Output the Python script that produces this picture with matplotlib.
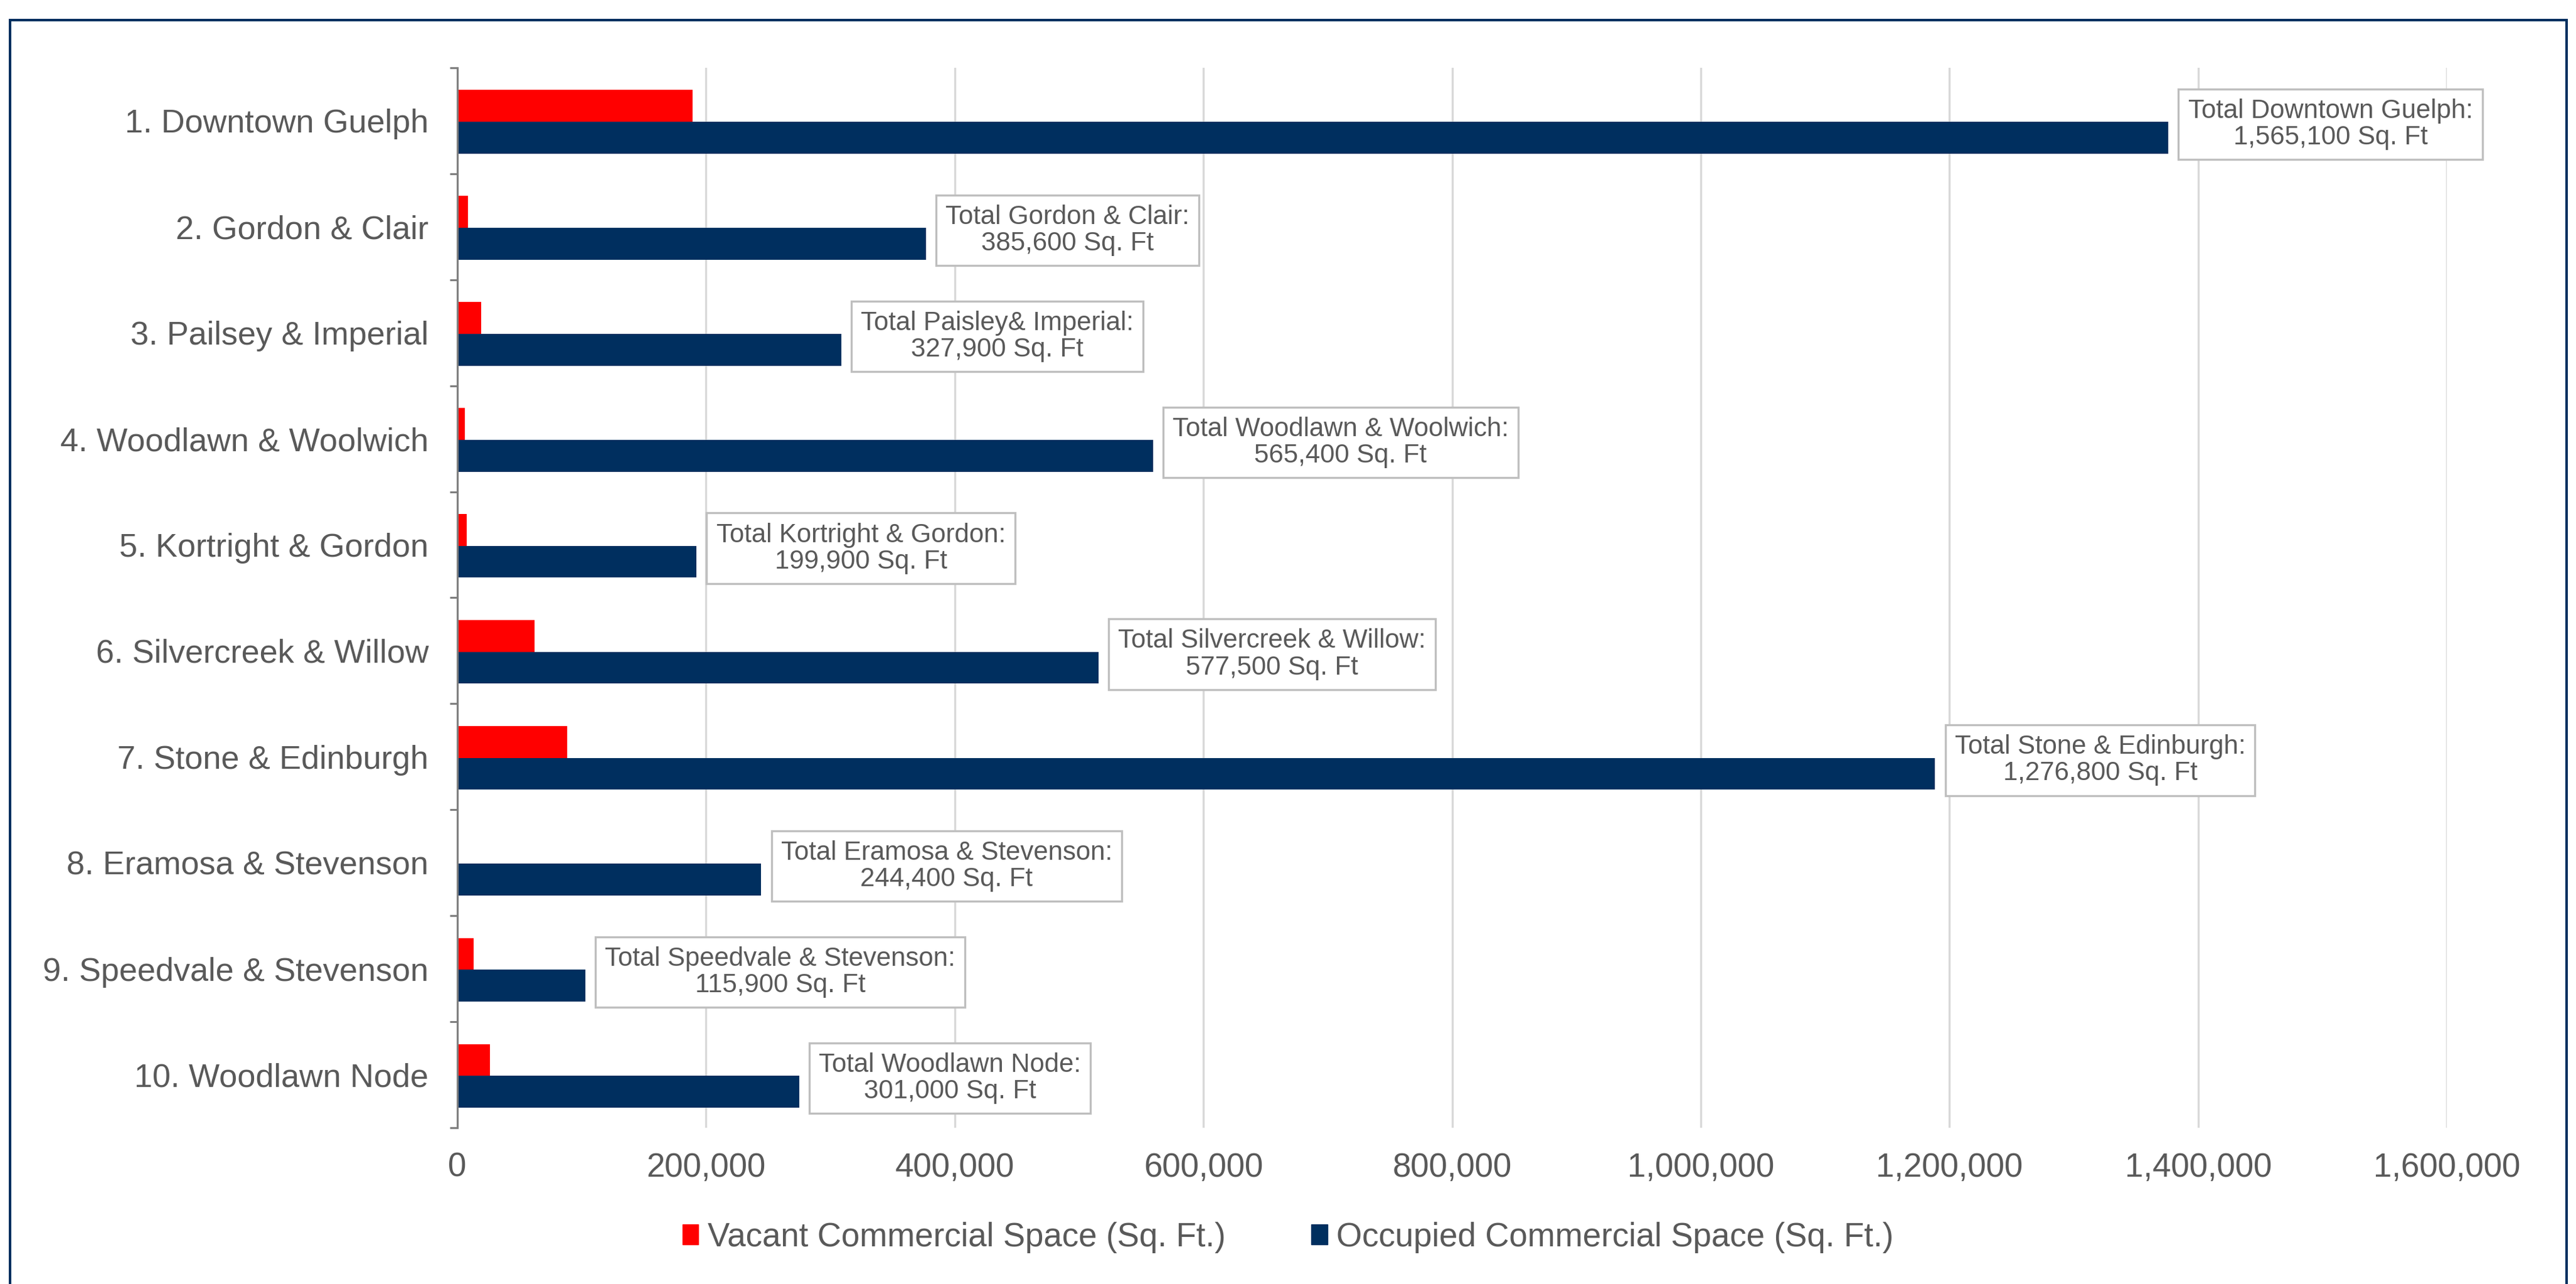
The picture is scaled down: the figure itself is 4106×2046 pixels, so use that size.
import matplotlib
matplotlib.use("Agg")
import matplotlib.pyplot as plt
import matplotlib.patches as mpatches
from matplotlib.ticker import FuncFormatter, FixedLocator
import numpy as np

plt.rcParams['font.family'] = ['Liberation Sans', 'DejaVu Sans']

# data
areas = ['1. Downtown Guelph', '2. Gordon & Clair', '3. Pailsey & Imperial',
         '4. Woodlawn & Woolwich', '5. Kortright & Gordon', '6. Silvercreek & Willow',
         '7. Stone & Edinburgh', '8. Eramosa & Stevenson', '9. Speedvale & Stevenson',
         '10. Woodlawn Node']
vacant = [189000, 8600, 19200, 6000, 7500, 62000, 88300, 0, 13000, 26000]
occupied = [1376100, 377000, 308700, 559400, 192400, 515500, 1188500, 244400, 102900, 275000]
totals = ['1,565,100', '385,600', '327,900', '565,400', '199,900',
          '577,500', '1,276,800', '244,400', '115,900', '301,000']
label_names = ['Downtown Guelph', 'Gordon & Clair', 'Paisley& Imperial',
               'Woodlawn & Woolwich', 'Kortright & Gordon', 'Silvercreek & Willow',
               'Stone & Edinburgh', 'Eramosa & Stevenson', 'Speedvale & Stevenson',
               'Woodlawn Node']

navy = '#002F5F'
red = '#FF0000'
grey_txt = '#595959'

W, H = 4106, 2046
fig = plt.figure(figsize=(W / 100, H / 100), dpi=100)
ax = fig.add_axes([729 / W, 1 - 1797 / H, (3900 - 729) / W, (1797 - 108) / H])

y = np.arange(len(areas))
h = 0.3
ax.barh(y - 0.14, vacant, height=h, color=red, zorder=3)
ax.barh(y + 0.16, occupied, height=h, color=navy, zorder=3)

# "Total ..." boxes sit just right of the occupied bar
for i in range(len(areas)):
    ax.annotate('Total %s:\n%s Sq. Ft' % (label_names[i], totals[i]),
                xy=(occupied[i], y[i]), xytext=(22.5, -4), textcoords='offset points',
                ha='left', va='center', multialignment='center',
                fontsize=30.2, color=grey_txt, linespacing=1.07, zorder=5,
                bbox=dict(boxstyle='square,pad=0.36', fc='white', ec='#BFBFBF', lw=2.4))

ax.set_xlim(0, 1600000)
ax.set_ylim(len(areas) - 0.5, -0.5)
ax.xaxis.set_major_locator(FixedLocator(np.arange(0, 1600001, 200000)))
ax.xaxis.set_major_formatter(FuncFormatter(lambda v, p: '{:,.0f}'.format(v)))
ax.grid(axis='x', color='#D9D9D9', lw=2.4, zorder=0)
ax.set_axisbelow(True)

ax.set_yticks(y)
ax.set_yticklabels(areas)
ax.set_yticks(np.arange(-0.5, len(areas), 1), minor=True)
ax.tick_params(axis='y', which='major', length=0, pad=33, labelsize=37.5, labelcolor=grey_txt)
ax.tick_params(axis='y', which='minor', length=8.6, width=2.2, color='#7F7F7F', direction='out')
ax.tick_params(axis='x', length=0, pad=28, labelsize=38, labelcolor=grey_txt)

for s in ['top', 'right', 'bottom']:
    ax.spines[s].set_visible(False)
ax.spines['left'].set_color('#7F7F7F')
ax.spines['left'].set_linewidth(2.2)
ax.spines['left'].set_zorder(4)

hs = [mpatches.Patch(color=red), mpatches.Patch(color=navy)]
fig.legend(hs, ['Vacant Commercial Space (Sq. Ft.)', 'Occupied Commercial Space (Sq. Ft.)'],
           loc='center', bbox_to_anchor=(0.5, 1 - 1972 / H), ncol=2, frameon=False,
           fontsize=38, labelcolor=grey_txt, handlelength=0.48, handleheight=0.55,
           handletextpad=0.27, columnspacing=2.6)

# outer frame (bottom edge runs off the image)
fig.patches.append(mpatches.Rectangle((16 / W, -0.05), (4091 - 16) / W, 1.05 - 32 / H,
                                      transform=fig.transFigure, fill=False,
                                      ec=navy, lw=2.9, clip_on=False))

fig.savefig('out.png', dpi=100)
